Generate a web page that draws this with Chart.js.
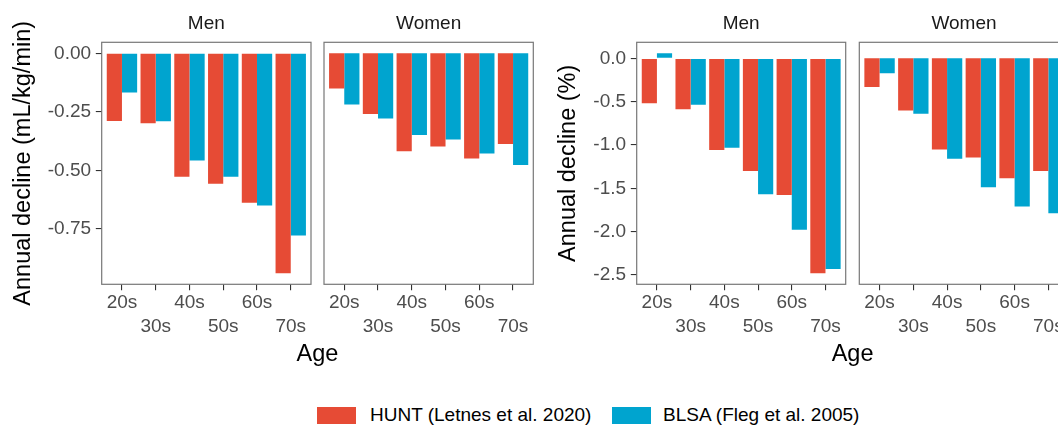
<!DOCTYPE html>
<html>
<head>
<meta charset="utf-8">
<script src="https://cdn.jsdelivr.net/npm/chart.js@4.4.1/dist/chart.umd.min.js"></script>
<style>
  html, body { margin: 0; padding: 0; background: #fff; }
  #wrap { position: relative; width: 1058px; height: 427px; overflow: hidden; background: #fff;
          font-family: "Liberation Sans", Arial, sans-serif; }
  canvas { position: absolute; top: 0; }
  .xt { position: absolute; font-size: 23.5px; line-height: 28px; color: #000; transform: translateX(-50%); white-space: nowrap; }
  .lg { position: absolute; font-size: 19px; line-height: 22px; color: #000; white-space: nowrap; }
  .key { position: absolute; width: 39px; height: 17px; }
</style>
</head>
<body>
<div id="wrap">
  <canvas id="c1" width="320" height="340" style="left:0px"></canvas>
  <canvas id="c2" width="222" height="340" style="left:318px"></canvas>
  <canvas id="c3" width="312" height="340" style="left:540px"></canvas>
  <canvas id="c4" width="222" height="340" style="left:853px"></canvas>
  <div class="xt" style="left:317.5px; top:339px">Age</div>
  <div class="xt" style="left:852.6px; top:339px">Age</div>
  <div class="key" style="left:317px; top:406.5px; background:#E64B35"></div>
  <div class="lg" style="left:370px; top:404px">HUNT (Letnes et al. 2020)</div>
  <div class="key" style="left:611.5px; top:406.5px; background:#00A4CF"></div>
  <div class="lg" style="left:663px; top:404px">BLSA (Fleg et al. 2005)</div>
</div>
<script>
// ---- data ----
const ageLabels = ['20s', '30s', '40s', '50s', '60s', '70s'];
const seriesNames = ['HUNT (Letnes et al. 2020)', 'BLSA (Fleg et al. 2005)'];
const facetNames = ['Men', 'Women'];

const huntMenML   = [-0.289, -0.299, -0.528, -0.557, -0.639, -0.940];
const blsaMenML   = [-0.168, -0.290, -0.458, -0.528, -0.650, -0.779];
const huntWomenML = [-0.150, -0.259, -0.418, -0.398, -0.449, -0.388];
const blsaWomenML = [-0.219, -0.279, -0.349, -0.368, -0.428, -0.477];

const huntMenPct   = [-0.518, -0.587, -1.058, -1.300, -1.576, -2.481];
const blsaMenPct   = [0.058, -0.537, -1.031, -1.568, -1.979, -2.431];
const huntWomenPct = [-0.330, -0.602, -1.051, -1.146, -1.384, -1.300];
const blsaWomenPct = [-0.173, -0.640, -1.158, -1.488, -1.710, -1.787];

const mlTicks  = [0, -0.25, -0.5, -0.75];
const pctTicks = [0, -0.5, -1.0, -1.5, -2.0, -2.5];

const yTitleML  = 'Annual decline (mL/kg/min)';
const yTitlePct = 'Annual decline (%)';

// ---- styling ----
const RED = '#E64B35', BLUE = '#00A4CF';
const FONT = '"Liberation Sans", Arial, sans-serif';
const TICK_LEN = 5.9;

function range(arrs) {
  const all = [].concat(...arrs, [0]);
  const mn = Math.min(...all), mx = Math.max(...all);
  const e = (mx - mn) * 0.05;
  return [mn - e, mx + e];
}
const mlRange = range([huntMenML, blsaMenML, huntWomenML, blsaWomenML]);
const pctRange = range([huntMenPct, blsaMenPct, huntWomenPct, blsaWomenPct]);

const borderPlugin = {
  id: 'panelBorder',
  afterDraw(chart) {
    const a = chart.chartArea, ctx = chart.ctx;
    ctx.save();
    ctx.strokeStyle = '#777777';
    ctx.lineWidth = 1.2;
    ctx.strokeRect(a.left, a.top, a.right - a.left, a.bottom - a.top);
    ctx.restore();
  }
};

function makeFacet(id, facet, hunt, blsa, yr, yticks, decimals, showY, yTitle, yTitlePad, yWidth, padL, padR) {
  const toPts = arr => ageLabels.map((_, i) => ({ x: i, y: arr[i] }));
  new Chart(document.getElementById(id), {
    type: 'bar',
    data: {
      datasets: [
        { label: seriesNames[0], data: toPts(hunt), backgroundColor: RED, borderWidth: 0 },
        { label: seriesNames[1], data: toPts(blsa), backgroundColor: BLUE, borderWidth: 0 }
      ]
    },
    options: {
      responsive: false,
      animation: false,
      devicePixelRatio: 1,
      categoryPercentage: 0.9,
      barPercentage: 1.0,
      layout: { padding: { left: padL, right: padR, top: 0, bottom: 0 } },
      plugins: {
        legend: { display: false },
        tooltip: { enabled: false },
        title: {
          display: true, text: facet, fullSize: false, color: '#1A1A1A',
          font: { family: FONT, size: 19, weight: 'normal', lineHeight: 1.2 },
          padding: { top: 12, bottom: 7.5 }
        }
      },
      scales: {
        x: {
          type: 'linear', min: -0.6, max: 5.6, offset: false,
          afterBuildTicks: s => { s.ticks = ageLabels.map((_, i) => ({ value: i })); },
          afterFit: s => { s.height = 340 - 284.3; },
          grid: { display: true, drawOnChartArea: false, drawTicks: true, tickLength: TICK_LEN,
                  color: '#333333', lineWidth: 1.1, offset: false },
          border: { display: false },
          ticks: {
            autoSkip: false, maxRotation: 0, minRotation: 0, padding: 1,
            color: '#4D4D4D', font: { family: FONT, size: 19, lineHeight: 24 / 19 },
            callback: v => { const i = Math.round(v); return i % 2 === 0 ? ageLabels[i] : ['', ageLabels[i]]; }
          }
        },
        y: {
          type: 'linear', min: yr[0], max: yr[1], display: true,
          afterBuildTicks: s => { s.ticks = yticks.map(v => ({ value: v })); },
          afterFit: s => { s.width = yWidth; },
          grid: { display: showY, drawOnChartArea: false, drawTicks: showY, tickLength: TICK_LEN,
                  color: '#333333', lineWidth: 1.1 },
          border: { display: false },
          ticks: {
            display: showY, padding: 4.7, color: '#4D4D4D',
            font: { family: FONT, size: 19 },
            callback: v => v.toFixed(decimals)
          },
          title: {
            display: showY, text: yTitle, color: '#000000',
            font: { family: FONT, size: 23.5, weight: 'normal', lineHeight: 1.2 },
            padding: { top: yTitlePad, bottom: 0 }
          }
        }
      }
    },
    plugins: [borderPlugin]
  });
}

makeFacet('c1', facetNames[0], huntMenML, blsaMenML, mlRange, mlTicks, 2, true, yTitleML, 9.2, 101.7, 0, 9);
makeFacet('c2', facetNames[1], huntWomenML, blsaWomenML, mlRange, mlTicks, 2, false, yTitleML, 0, 0, 6, 6.7);
makeFacet('c3', facetNames[0], huntMenPct, blsaMenPct, pctRange, pctTicks, 1, true, yTitlePct, 14.9, 96.7, 0, 6.3);
makeFacet('c4', facetNames[1], huntWomenPct, blsaWomenPct, pctRange, pctTicks, 1, false, yTitlePct, 0, 0, 6.3, 6.4);
</script>
</body>
</html>
